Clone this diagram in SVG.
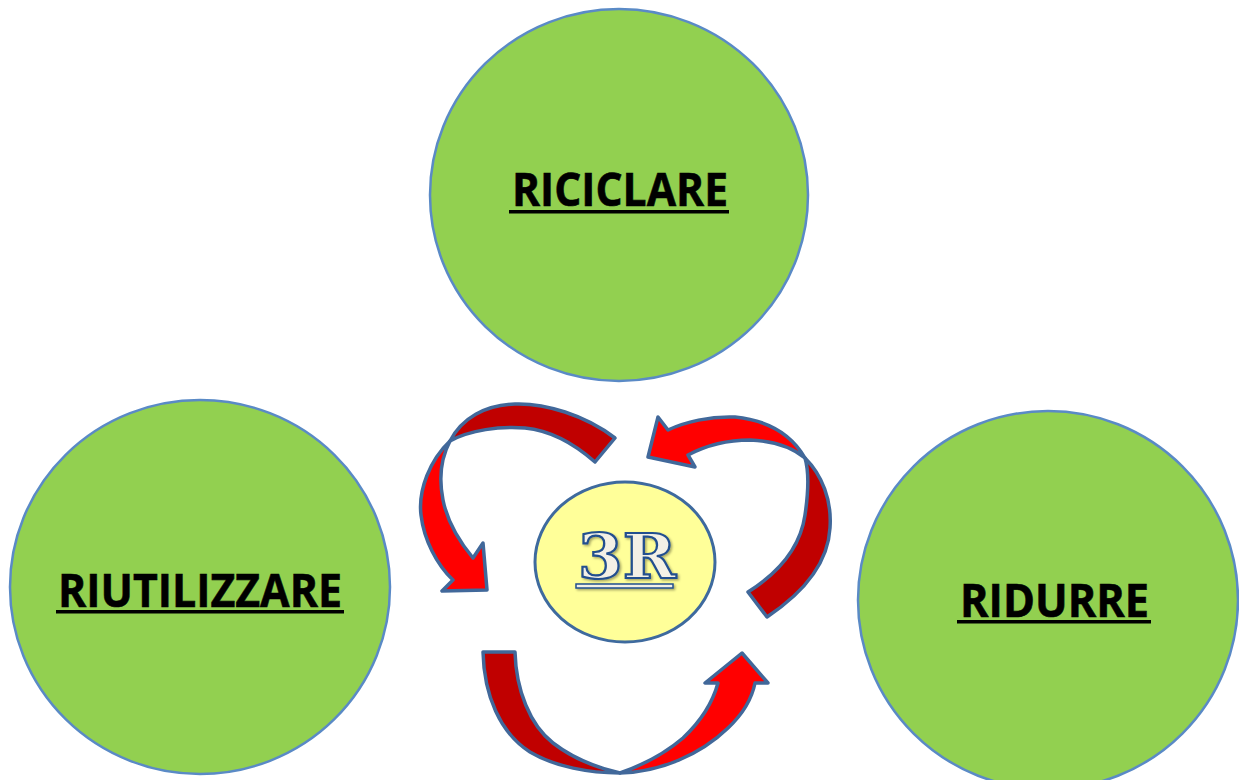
<svg xmlns="http://www.w3.org/2000/svg" width="1239" height="780" viewBox="0 0 1239 780">
<defs>
<style>
.node{fill:#92D050;stroke:#5A8AC6;stroke-width:2.5}
.lbl{font-family:"Open Sans","Liberation Sans",sans-serif;font-weight:bold;font-size:46px;fill:#000}
.ul{fill:#000}
.dark{fill:#C00000;stroke:#41689A;stroke-width:3.5;stroke-linejoin:round}
.bright{fill:#FF0000;stroke:#41689A;stroke-width:3.5;stroke-linejoin:round}
</style>
<filter id="sh" x="-20%" y="-20%" width="140%" height="140%">
<feDropShadow dx="1.5" dy="1.5" stdDeviation="1.2" flood-color="#000" flood-opacity="0.35"/>
</filter>
</defs>
<rect width="1239" height="780" fill="#fff"/>
<g id="riciclare">
<ellipse class="node" cx="619" cy="195" rx="189" ry="186"/>
<text class="lbl" x="512" y="206" textLength="216" lengthAdjust="spacingAndGlyphs" stroke="#000" stroke-width="0.6">RICICLARE</text>
<rect class="ul" x="509" y="210" width="220" height="3.5"/>
</g>
<g id="riutilizzare">
<ellipse class="node" cx="200" cy="587" rx="190" ry="187"/>
<text class="lbl" x="58" y="607" textLength="284" lengthAdjust="spacingAndGlyphs" stroke="#000" stroke-width="0.6">RIUTILIZZARE</text>
<rect class="ul" x="56" y="610" width="288" height="3.5"/>
</g>
<g id="ridurre">
<ellipse class="node" cx="1048" cy="600" rx="190" ry="189"/>
<text class="lbl" x="960" y="617" textLength="189" lengthAdjust="spacingAndGlyphs" stroke="#000" stroke-width="0.6">RIDURRE</text>
<rect class="ul" x="957" y="620" width="194" height="3.5"/>
</g>
<g id="connectors">
<path class="dark" d="M615,438 C585,415 545,403 515,404 C485,405 462,418 450,441 C470,430 500,426 525,428 C555,431 578,447 595,462 Z"/>
<path class="bright" d="M450,441 C430,460 418,490 421,515 C424,540 437,565 453,580 L442,591 L487,590 L483,543 L473,558 C458,540 447,520 443,500 C439,480 440,460 450,441 Z"/>
<path class="dark" d="M805,458 C822,475 832,500 830,528 C828,565 800,595 767,617 L748,592 C775,575 800,550 805,515 C808,495 810,475 805,458 Z"/>
<path class="bright" d="M805,458 C790,432 765,420 735,417 C710,416 685,422 668,430 L658,417 L648,457 L695,467 L688,455 C705,446 725,440 750,440 C775,441 793,448 805,458 Z"/>
<path class="dark" d="M483,652 L515,652 C516,690 530,725 553,743 C575,760 598,768 620,773 C590,773 555,767 530,752 C500,733 484,695 483,652 Z"/>
<path class="bright" d="M620,773 C660,772 700,755 728,728 C745,712 752,698 755,683 L768,683 L742,653 L705,683 L718,683 C712,705 700,722 683,738 C662,756 640,766 620,773 Z"/>
</g>
<g id="center">
<ellipse cx="625" cy="562" rx="90" ry="80" fill="#FFFF99" stroke="#3E6A9E" stroke-width="3"/>
<g filter="url(#sh)">
<text x="578" y="578" textLength="98" lengthAdjust="spacingAndGlyphs" font-family="DejaVu Serif, Liberation Serif, serif" font-weight="bold" font-size="62" fill="#F3F0E6" stroke="#23508F" stroke-width="2.2">3R</text>
<rect x="576" y="584" width="97" height="4" fill="#F3F0E6" stroke="#23508F" stroke-width="1.5"/>
</g>
</g>
</svg>
